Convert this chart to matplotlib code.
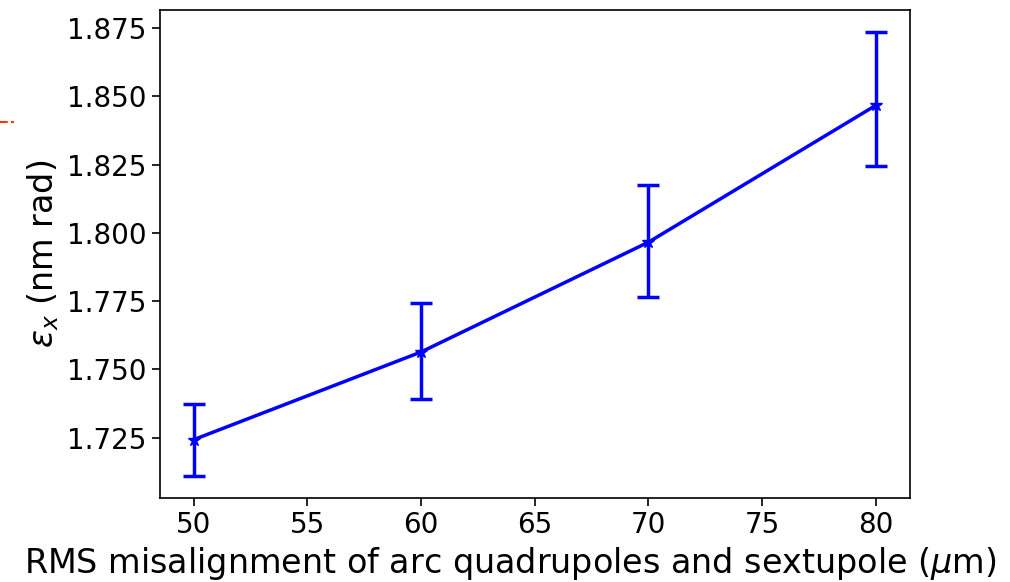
import matplotlib
matplotlib.use('Agg')
import matplotlib.pyplot as plt
from matplotlib.lines import Line2D
from matplotlib.ticker import MultipleLocator, FormatStrFormatter

# datos: desalineamiento RMS (um) y emitancia (nm rad)
desalineamiento = [50, 60, 70, 80]
emitancia = [1.7243, 1.7564, 1.7966, 1.8467]
err_sup = [1.7372, 1.7742, 1.8176, 1.8735]
err_inf = [1.7110, 1.7392, 1.7766, 1.8243]

yerr = [
    [e - lo for e, lo in zip(emitancia, err_inf)],
    [hi - e for e, hi in zip(emitancia, err_sup)],
]

fig = plt.figure(figsize=(10.1, 5.82), dpi=100)
ax = fig.add_axes([0.158, 0.144, 0.743, 0.839])

ax.errorbar(
    desalineamiento, emitancia, yerr=yerr,
    color='blue', marker='*', markersize=9, linewidth=2.5,
    capsize=8, elinewidth=2.5, capthick=2.5
)

ax.yaxis.set_major_locator(MultipleLocator(0.025))
ax.yaxis.set_major_formatter(FormatStrFormatter('%.3f'))

ax.set_xlabel(r'RMS misalignment of arc quadrupoles and sextupole ($\mu$m)', fontsize=24)
ax.xaxis.set_label_coords(0.467, -0.095)
ax.set_ylabel(r'$\epsilon_x$ (nm rad)', fontsize=24)
ax.tick_params(labelsize=20, width=1.2, length=6)
for s in ax.spines.values():
    s.set_linewidth(1.2)

# resto de un panel vecino (línea roja discontinua)
fig.add_artist(Line2D([0.0, 0.014], [0.79, 0.79], transform=fig.transFigure,
                      color='#ff3300', linestyle='--', linewidth=1.5))

fig.savefig('out.png', dpi=100)
